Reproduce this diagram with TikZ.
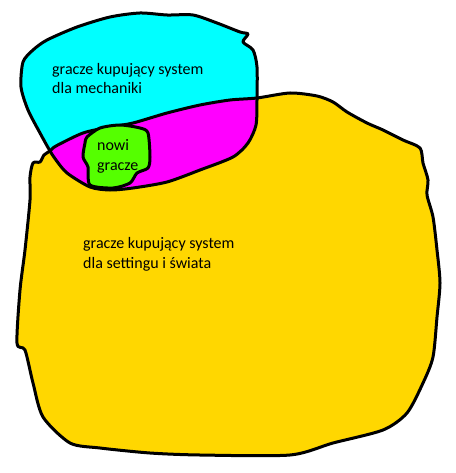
\documentclass[tikz,border=0pt]{standalone}
\usepackage{fontspec}
\setmainfont{Carlito}
\definecolor{cyanfill}{HTML}{00FFFF}
\definecolor{magfill}{HTML}{FF00FF}
\definecolor{greenfill}{HTML}{55FF00}
\definecolor{yellowfill}{HTML}{FFD700}
\begin{document}
\begin{tikzpicture}[x=1pt,y=-1pt,
  outline/.style={draw=black,line width=3pt,line join=round},
  lbl/.style={anchor=base west,inner sep=0pt,font=\fontsize{16}{19}\selectfont}]
\useasboundingbox (0,0) rectangle (455,473);
\def\cyanpath{plot[smooth cycle,tension=0.45] coordinates {(50,151) (40,133) (28,110) (21,87) (23,62) (33,50) (47,40) (77,27) (110,17) (140,13) (167,15) (193,15) (217,23) (240,32) (248,34) (243,42) (253,50) (257,67) (257,100) (256,125) (248,143) (233,157) (200,170) (167,182) (133,188) (110,190) (90,187) (67,173) (56,160)}}
\def\yellowpath{plot[smooth cycle,tension=0.45] coordinates {(50,151) (56,146) (83,133) (110,127) (133,123) (167,113) (200,105) (230,100) (257,98) (290,93) (317,96) (333,102) (347,112) (367,123) (383,130) (403,140) (420,148) (423,163) (428,180) (427,195) (433,217) (437,250) (440,283) (437,317) (433,357) (423,383) (407,413) (383,430) (333,443) (290,455) (200,455) (150,453) (100,448) (70,443) (43,417) (33,383) (25,350) (17,343) (20,290) (25,250) (30,200) (30,177) (33,163) (40,162) (44,155)}}
% fills
\fill[yellowfill] \yellowpath;
\fill[cyanfill] \cyanpath;
\begin{scope}
  \clip \yellowpath;
  \fill[magfill] \cyanpath;
\end{scope}
% outlines
\draw[outline] \yellowpath;
\draw[outline] \cyanpath;
% green
\draw[outline,fill=greenfill] plot[smooth cycle,tension=0.45] coordinates {(87,137) (100,128) (120,125) (140,128) (148,133) (150,157) (148,168) (137,173) (130,183) (113,188) (90,185) (88,167) (83,157) (85,143)};
% labels
\node[lbl] (c1) at (52,75) {gracze kupujący system};
\node[lbl] (c2) at (52,94) {dla mechaniki};
\node[lbl] (g1) at (97,150) {nowi};
\node[lbl] (g2) at (97,170) {gracze};
\node[lbl] (y1) at (83,248) {gracze kupujący system};
\node[lbl] (y2) at (83,268) {dla settingu i świata};
\end{tikzpicture}
\end{document}
